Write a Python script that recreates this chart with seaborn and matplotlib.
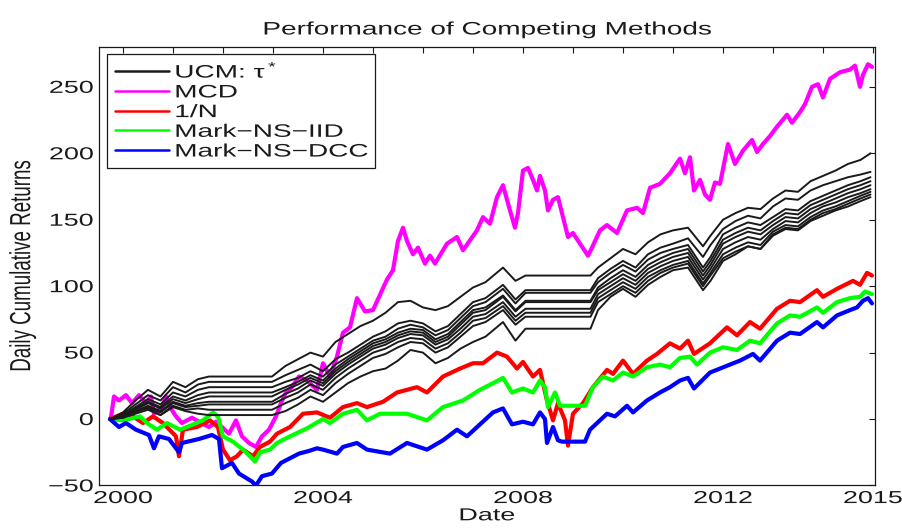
import numpy as np
import pandas as pd
import matplotlib
matplotlib.use('Agg')
import matplotlib.pyplot as plt
import matplotlib.patheffects as pe
from matplotlib.transforms import Affine2D
from matplotlib.lines import Line2D
import seaborn as sns

# ---- data (decimal years, cumulative returns) ----
ucm_dates = [1999.75, 2000.0, 2000.25, 2000.5, 2000.75, 2001.0, 2001.25, 2001.5, 2001.72,
             2002.98, 2003.25, 2003.5, 2003.75, 2004.0, 2004.25, 2004.5, 2004.75, 2005.0,
             2005.25, 2005.5, 2005.75, 2006.0, 2006.25, 2006.5, 2006.75, 2007.0, 2007.25,
             2007.6, 2007.85, 2008.05, 2009.35, 2009.5, 2009.75, 2010.0, 2010.25, 2010.5,
             2010.75, 2011.0, 2011.3, 2011.6, 2011.75, 2012.0, 2012.25, 2012.5, 2012.75,
             2013.0, 2013.25, 2013.5, 2013.75, 2014.0, 2014.25, 2014.5, 2014.75, 2014.95]
ucm_1 = [0, 5, 14, 22, 17, 28, 24, 30, 32, 32, 40, 45, 50, 47, 58, 64, 70, 74, 80, 88, 89, 84, 82, 85,
         92, 99, 103, 114, 104, 108, 108, 114, 121, 128, 124, 133, 139, 142, 144, 130, 138, 150, 155,
         159, 158, 166, 172, 171, 179, 183, 187, 192, 195, 200]
ucm_2 = [0, 4, 11, 18, 14, 24, 20, 26, 28, 28, 33, 37, 41, 36, 45, 50, 56, 62, 66, 72, 74, 72, 66, 70,
         79, 88, 91, 101, 90, 97, 97, 106, 113, 119, 114, 124, 129, 132, 136, 122, 131, 143, 149,
         153, 151, 160, 166, 165, 172, 176, 179, 182, 184, 186]
ucm_3 = [0, 3, 9, 15, 11, 20, 17, 22, 24, 24, 28, 31, 36, 32, 41, 47, 53, 59, 62, 68, 71, 69, 63, 67,
         76, 85, 88, 98, 87, 95, 95, 103, 110, 116, 111, 120, 125, 128, 131, 114, 122, 139, 144,
         148, 146, 152, 158, 157, 164, 168, 172, 176, 179, 182]
ucm_4 = [0, 3, 8, 13, 9, 17, 14, 18, 20, 20, 24, 28, 33, 29, 38, 45, 51, 57, 60, 65, 68, 67, 60, 64,
         73, 82, 84, 93, 82, 89, 89, 99, 106, 112, 107, 116, 121, 125, 128, 111, 119, 135, 140,
         144, 142, 149, 155, 154, 161, 165, 169, 173, 176, 179]
ucm_5 = [0, 2, 7, 12, 8, 15, 12, 15, 17, 17, 22, 26, 31, 27, 36, 43, 49, 55, 58, 63, 66, 65, 58, 62,
         71, 80, 82, 92, 81, 88, 88, 97, 103, 109, 104, 113, 118, 122, 125, 108, 116, 132, 137,
         141, 139, 146, 152, 151, 158, 162, 166, 170, 173, 176]
ucm_6 = [0, 2, 6, 10, 6, 13, 10, 12, 13, 13, 19, 23, 29, 25, 34, 41, 47, 53, 56, 61, 64, 63, 56, 60,
         68, 77, 79, 88, 77, 83, 83, 94, 100, 106, 101, 110, 115, 119, 122, 105, 113, 128, 133,
         137, 135, 143, 149, 148, 155, 160, 163, 167, 170, 173]
ucm_7 = [0, 1, 5, 9, 5, 12, 9, 10, 11, 11, 16, 20, 26, 22, 31, 38, 44, 50, 53, 58, 61, 60, 53, 57,
         65, 74, 76, 85, 74, 80, 80, 91, 97, 103, 98, 107, 112, 116, 119, 102, 110, 124, 129,
         133, 131, 141, 146, 145, 152, 157, 160, 164, 168, 171]
ucm_8 = [0, 1, 4, 7, 3, 10, 7, 8, 7, 7, 12, 16, 22, 18, 27, 34, 40, 46, 49, 54, 58, 57, 50, 54,
         62, 70, 73, 82, 71, 77, 77, 88, 94, 100, 95, 104, 110, 114, 117, 100, 108, 121, 126,
         130, 128, 139, 144, 143, 150, 155, 158, 162, 166, 169]
ucm_9 = [0, 2, 6, 8, 3, 9, 6, 4, 3, 3, 6, 11, 17, 13, 20, 27, 32, 36, 38, 44, 52, 50, 42, 46,
         53, 58, 62, 73, 59, 68, 68, 82, 92, 98, 92, 101, 107, 112, 114, 97, 104, 119, 124,
         130, 128, 138, 143, 142, 149, 153, 157, 160, 164, 167]

mcd_dates = [1999.76, 1999.82, 1999.92, 2000.06, 2000.18, 2000.32, 2000.46, 2000.56, 2000.62, 2000.78,
             2000.86, 2000.96, 2001.06, 2001.18, 2001.38, 2001.52, 2001.72, 2001.86, 2001.98, 2002.12,
             2002.26, 2002.38, 2002.52, 2002.66, 2002.78, 2002.92, 2003.06, 2003.16, 2003.26, 2003.38,
             2003.52, 2003.68, 2003.88, 2004.0, 2004.14, 2004.28, 2004.4, 2004.54, 2004.68, 2004.84,
             2005.0, 2005.28, 2005.4, 2005.5, 2005.6, 2005.68, 2005.8, 2005.9, 2006.04, 2006.14,
             2006.24, 2006.48, 2006.68, 2006.8, 2007.08, 2007.2, 2007.34, 2007.48, 2007.6, 2007.74,
             2007.84, 2007.9, 2008.0, 2008.1, 2008.2, 2008.28, 2008.34, 2008.44, 2008.5, 2008.6,
             2008.7, 2008.8, 2008.9, 2009.0, 2009.14, 2009.3, 2009.38, 2009.54, 2009.68, 2009.88,
             2010.08, 2010.28, 2010.4, 2010.54, 2010.74, 2010.94, 2011.14, 2011.24, 2011.34, 2011.42,
             2011.54, 2011.64, 2011.74, 2011.84, 2011.94, 2012.1, 2012.24, 2012.4, 2012.58, 2012.68,
             2012.8, 2012.94, 2013.08, 2013.28, 2013.38, 2013.54, 2013.64, 2013.78, 2013.9, 2014.0,
             2014.14, 2014.34, 2014.54, 2014.64, 2014.74, 2014.8, 2014.9, 2014.98]
mcd_vals = [1, 17, 14, 18, 12, 18, 12, 17, 4, 9,
            17, 8, 2, -3, 1, -2, -6, -2, -6, -11,
            -1, -13, -18, -21, -13, -8, 2, 12, 20, 24,
            32, 29, 22, 42, 32, 47, 65, 69, 91, 81,
            82, 105, 112, 134, 144, 134, 124, 129, 117, 123,
            117, 132, 137, 127, 142, 152, 147, 167, 176, 157,
            144, 155, 187, 189, 180, 172, 183, 172, 157, 165,
            167, 152, 137, 140, 132, 123, 129, 142, 146, 140,
            157, 159, 155, 174, 177, 185, 196, 185, 197, 172,
            180, 169, 165, 178, 177, 207, 192, 202, 210, 201,
            207, 213, 220, 229, 223, 231, 237, 250, 252, 242,
            256, 261, 263, 266, 250, 259, 267, 265]

eqw_dates = [1999.74, 2000.0, 2000.2, 2000.4, 2000.6, 2000.8, 2001.06, 2001.12, 2001.2, 2001.48,
             2001.74, 2001.9, 2002.0, 2002.14, 2002.28, 2002.4, 2002.6, 2002.74, 2002.94, 2003.08,
             2003.34, 2003.6, 2003.88, 2004.14, 2004.4, 2004.68, 2004.88, 2005.2, 2005.48, 2005.88,
             2006.08, 2006.4, 2006.74, 2007.0, 2007.2, 2007.48, 2007.68, 2007.88, 2008.0, 2008.2,
             2008.34, 2008.48, 2008.6, 2008.7, 2008.84, 2008.9, 2009.0, 2009.2, 2009.4, 2009.68,
             2009.8, 2010.0, 2010.2, 2010.48, 2010.68, 2010.94, 2011.14, 2011.3, 2011.42, 2011.74,
             2012.08, 2012.28, 2012.54, 2012.74, 2013.08, 2013.34, 2013.54, 2013.88, 2014.0, 2014.28,
             2014.6, 2014.74, 2014.88, 2014.98]
eqw_vals = [0, 4, 2, -3, 2, -3, -13, -28, -8, -6,
            -1, -6, -23, -31, -28, -23, -28, -21, -17, -11,
            -6, 4, 5, 1, 9, 12, 9, 13, 20, 24,
            20, 32, 38, 42, 42, 50, 47, 38, 43, 32,
            37, 14, -1, 12, -1, -20, 4, 12, 24, 37,
            34, 44, 34, 44, 49, 57, 53, 59, 49, 57,
            69, 63, 73, 68, 83, 89, 88, 97, 92, 98,
            104, 101, 110, 108]

iid_dates = [1999.74, 2000.0, 2000.34, 2000.48, 2000.68, 2000.88, 2001.14, 2001.34, 2001.6, 2001.8,
             2001.9, 2002.0, 2002.2, 2002.4, 2002.54, 2002.64, 2002.74, 2002.94, 2003.08, 2003.34,
             2003.68, 2004.0, 2004.14, 2004.4, 2004.68, 2004.88, 2005.14, 2005.68, 2006.08, 2006.4,
             2006.8, 2007.14, 2007.4, 2007.6, 2007.78, 2008.0, 2008.2, 2008.34, 2008.44, 2008.5,
             2008.64, 2008.74, 2009.24, 2009.4, 2009.6, 2009.8, 2010.0, 2010.2, 2010.48, 2010.74,
             2010.94, 2011.14, 2011.34, 2011.48, 2011.74, 2012.0, 2012.28, 2012.54, 2012.74, 2013.08,
             2013.34, 2013.54, 2013.88, 2014.0, 2014.28, 2014.54, 2014.74, 2014.84, 2014.98]
iid_vals = [0, -1, 2, -3, -8, -3, -8, -5, -1, 5,
            2, -13, -17, -23, -28, -32, -25, -23, -18, -13,
            -7, 0, -3, 4, 7, -1, 4, 4, -1, 9,
            14, 22, 27, 31, 20, 23, 20, 29, 24, 9,
            20, 10, 10, 24, 32, 29, 35, 32, 39, 41,
            39, 46, 47, 41, 50, 54, 52, 59, 57, 72,
            78, 77, 84, 80, 88, 91, 92, 96, 94]

dcc_dates = [1999.74, 1999.92, 2000.06, 2000.26, 2000.52, 2000.62, 2000.72, 2000.92, 2001.12, 2001.18,
             2001.52, 2001.78, 2001.92, 2001.98, 2002.18, 2002.32, 2002.58, 2002.66, 2002.78, 2002.98,
             2003.16, 2003.52, 2003.72, 2003.88, 2004.0, 2004.28, 2004.4, 2004.68, 2004.88, 2005.34,
             2005.68, 2006.08, 2006.4, 2006.68, 2006.88, 2007.4, 2007.6, 2007.78, 2008.0, 2008.2,
             2008.34, 2008.44, 2008.48, 2008.6, 2008.7, 2008.78, 2009.24, 2009.34, 2009.68, 2009.84,
             2010.08, 2010.2, 2010.48, 2010.74, 2010.94, 2011.14, 2011.3, 2011.42, 2011.74, 2012.14,
             2012.34, 2012.6, 2012.74, 2013.08, 2013.34, 2013.54, 2013.88, 2014.0, 2014.28, 2014.54,
             2014.68, 2014.8, 2014.9, 2014.98]
dcc_vals = [0, -6, -3, -8, -12, -22, -13, -15, -25, -18,
            -15, -12, -15, -37, -33, -41, -47, -50, -43, -41,
            -33, -26, -24, -22, -23, -26, -21, -18, -23, -26,
            -18, -23, -16, -8, -13, 5, 8, -4, -2, -4,
            5, 0, -18, -6, -16, -17, -17, -8, 4, 2,
            10, 5, 14, 20, 24, 29, 31, 23, 35, 41,
            44, 49, 44, 59, 65, 64, 73, 69, 78, 82,
            84, 89, 91, 87]

labels = ['UCM: τ$^*$', 'MCD', '1/N', 'Mark\u2212NS\u2212IID', 'Mark\u2212NS\u2212DCC']
colors = ['k', '#ff00ff', '#ff0000', '#00ff00', '#0000ff']
year_ticks = list(range(2000, 2016))
year_labels = ['2000', '2004', '2008', '2012', '2015']


# the reference picture was resized wider than tall, so its letters look wide;
# this squeezes the glyph outlines out sideways while they stay real text
class Stretch(pe.AbstractPathEffect):
    def __init__(self, sx=1.55, anchor='center'):
        super().__init__()
        self.sx = sx
        self.anchor = anchor

    def draw_path(self, renderer, gc, tpath, affine, rgbFace=None):
        box = tpath.get_extents(affine)
        if self.anchor == 'left':
            x0 = box.x0
        elif self.anchor == 'right':
            x0 = box.x1
        else:
            x0 = (box.x0 + box.x1) / 2
        tr = (affine + Affine2D().translate(-x0, 0).scale(self.sx, 1).translate(x0, 0)).frozen()
        renderer.draw_path(gc, tpath, tr, rgbFace)


sns.set_theme(style='white')
plt.rcParams['font.family'] = ['Liberation Sans', 'DejaVu Sans']
plt.rcParams['mathtext.fontset'] = 'custom'
plt.rcParams['mathtext.rm'] = 'Liberation Sans'
plt.rcParams['mathtext.it'] = 'Liberation Sans'
plt.rcParams['axes.unicode_minus'] = True

fig, ax = plt.subplots(figsize=(9.03, 5.28), dpi=100)
fig.subplots_adjust(left=0.1096, right=0.969, bottom=0.0805, top=0.911)

# UCM lines, one per tau
ucm_lines = [ucm_1, ucm_2, ucm_3, ucm_4, ucm_5, ucm_6, ucm_7, ucm_8, ucm_9]
ucm_df = pd.DataFrame({
    'date': ucm_dates * len(ucm_lines),
    'ret': sum(ucm_lines, []),
    'tau': np.repeat(np.arange(len(ucm_lines)), len(ucm_dates)),
})

sns.lineplot(x=mcd_dates, y=mcd_vals, color=colors[1], lw=3, ax=ax, zorder=2)
sns.lineplot(x=eqw_dates, y=eqw_vals, color=colors[2], lw=3, ax=ax, zorder=2)
sns.lineplot(x=iid_dates, y=iid_vals, color=colors[3], lw=3, ax=ax, zorder=2)
sns.lineplot(x=dcc_dates, y=dcc_vals, color=colors[4], lw=3, ax=ax, zorder=2)
sns.lineplot(data=ucm_df, x='date', y='ret', units='tau', estimator=None,
             color=colors[0], lw=1.4, ax=ax, zorder=3)

ax.set_xlim(1999.52, 2015.04)
ax.set_ylim(-50, 280)
ax.set_xticks(year_ticks, [str(y) if str(y) in year_labels else '' for y in year_ticks])
ax.set_yticks([-50, 0, 50, 100, 150, 200, 250])
ax.tick_params(direction='in', length=4, width=0.8, top=True, right=True,
               labelsize=12.5, colors='k', pad=4)
for s in ax.spines.values():
    s.set_color('k')
    s.set_linewidth(0.9)

for lab in ax.get_xticklabels():
    lab.set_path_effects([Stretch()])
for lab in ax.get_yticklabels():
    lab.set_path_effects([Stretch(anchor='right')])

t = ax.set_title('Performance of Competing Methods', fontsize=13, color='k', pad=9)
t.set_path_effects([Stretch()])
xl = ax.set_xlabel('Date', fontsize=12.5, color='k')
xl.set_path_effects([Stretch()])
ax.xaxis.set_label_coords(0.5, -0.052)
yl = ax.set_ylabel('Daily Cumulative Returns', fontsize=13.5, color='k')
yl.set_path_effects([Stretch()])
ax.yaxis.set_label_coords(-0.087, 0.5)

handles = [Line2D([], [], color=c, lw=1.8) for c in colors]
leg = ax.legend(handles, labels, loc='upper left', bbox_to_anchor=(0.0103, 0.0, 0.345, 0.984),
                mode='expand', borderaxespad=0, fontsize=13, frameon=True, fancybox=False,
                framealpha=1, edgecolor='k', handlelength=3.0, handletextpad=0.35,
                labelspacing=0.15, borderpad=0.42)
leg.get_frame().set_linewidth(0.9)
for txt in leg.get_texts():
    txt.set_color('k')
    txt.set_path_effects([Stretch(anchor='left')])

fig.savefig('out.png', dpi=100, facecolor='white')
